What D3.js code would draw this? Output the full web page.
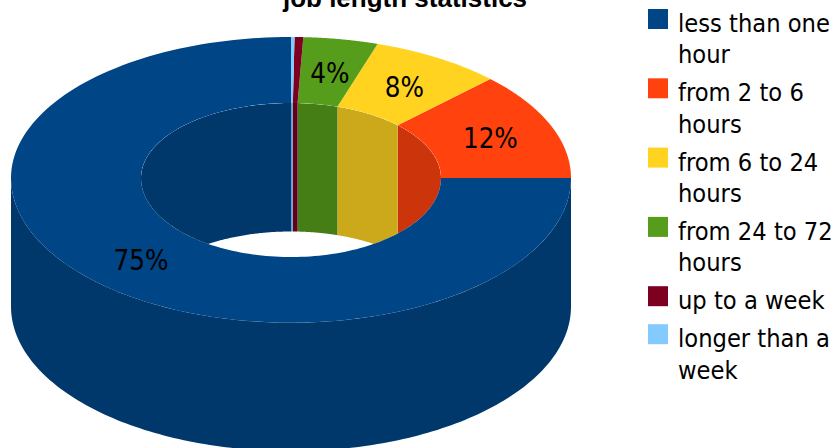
<!DOCTYPE html>
<html>
<head>
<meta charset="utf-8">
<script src="https://cdn.jsdelivr.net/npm/d3@7"></script>
<style>
  html, body { margin: 0; padding: 0; background: #fff; overflow: hidden; }
  svg { display: block; }
  text { font-family: "DejaVu Sans", sans-serif; font-stretch: condensed; fill: #000; }
  text.title { font-family: "Liberation Sans", sans-serif; font-stretch: normal; }
</style>
</head>
<body>
<svg id="chart" width="837" height="448"></svg>
<script>
const categories = ["less than one hour", "from 2 to 6 hours", "from 6 to 24 hours", "from 24 to 72 hours", "up to a week", "longer than a week"];
const shares = [75, 12.4, 7.6, 4.3, 0.5, 0.2];
const faceColors = ["#004586", "#ff420e", "#ffd320", "#579d1c", "#7e0021", "#83caff"];
const innerWallColors = ["#00386b", "#cc350b", "#cca91a", "#467e16", "#65001a", "#699fcc"];
const legendLines = [["less than one", "hour"], ["from 2 to 6", "hours"], ["from 6 to 24", "hours"], ["from 24 to 72", "hours"], ["up to a week"], ["longer than a", "week"]];
const sideColor = "#00386b";

const svg = d3.select("#chart");

// Ring geometry: a circular ring seen in perspective, so the near half of each
// ellipse is a little taller than the far half, extruded downward.
const cx = 291, cy = 178, outerR = 280, innerR = 150, depth = 128.5;
const tiltFar = d3.scaleLinear().domain([innerR, outerR]).range([0.5, 0.5036]);
const tiltNear = d3.scaleLinear().domain([innerR, outerR]).range([0.527, 0.5168]);

const pie = d3.pie().value(d => d).sort(null).startAngle(0).endAngle(-2 * Math.PI);
const slices = pie(shares);

const px = (r, a) => cx + r * Math.sin(a);
const py = (r, a) => {
  const c = Math.cos(a);
  return cy - r * c * (c > 0 ? tiltFar(r) : tiltNear(r));
};

// Sample angles across an interval for curved edges.
const sampleAngles = (a0, a1, n = 160) => d3.range(0, n + 1).map(i => a0 + (a1 - a0) * i / n);
const wall = r => d3.area().x(a => px(r, a)).y0(a => py(r, a)).y1(a => py(r, a) + depth);
const outline = d3.line().x(p => px(p[0], p[1])).y(p => py(p[0], p[1]));

const holeEdge = sampleAngles(0, 2 * Math.PI, 240).map(a => [innerR, a]);
svg.append("defs").append("clipPath").attr("id", "holeClip")
  .append("path").attr("d", outline(holeEdge) + "Z");

// Outer wall: only the front half of the ring faces the viewer.
svg.append("path")
  .attr("d", wall(outerR)(sampleAngles(Math.PI / 2, 3 * Math.PI / 2)))
  .attr("fill", sideColor);

// Inner wall: the far half of the hole, seen through the opening.
const hole = svg.append("g").attr("clip-path", "url(#holeClip)");
slices.forEach((s, i) => {
  const from = i === 0 ? -Math.PI / 2 : s.endAngle + 2 * Math.PI;
  const to = i === 0 ? 0 : s.startAngle + 2 * Math.PI;
  hole.append("path").attr("d", wall(innerR)(sampleAngles(from, to))).attr("fill", innerWallColors[i]);
});

// Upper face of the ring.
svg.append("g").selectAll("path").data(slices).join("path")
  .attr("d", s => {
    const angles = sampleAngles(s.startAngle, s.endAngle);
    const ring = angles.map(a => [outerR, a]).concat(angles.slice().reverse().map(a => [innerR, a]));
    return outline(ring) + "Z";
  })
  .attr("fill", (d, i) => faceColors[i]);

// Percentage labels, skipping the slivers.
const fmt = d3.format(".0f");
slices.forEach((s, i) => {
  if (s.data < 1) return;
  const mid = (s.startAngle + s.endAngle) / 2;
  const r = (innerR + outerR) / 2;
  const shift = i === 0 ? [2, 3] : [0.5, 0.8];
  svg.append("text")
    .attr("x", px(r, mid) + shift[0]).attr("y", py(r, mid) + shift[1])
    .attr("text-anchor", "middle").attr("dominant-baseline", "central")
    .attr("font-size", 27.5).text(fmt(s.data) + "%");
});

svg.append("text").attr("class", "title").attr("x", 405).attr("y", 6.8).attr("text-anchor", "middle")
  .attr("font-size", 26).attr("font-weight", "bold").text("job length statistics");

// Legend with wrapped entries.
let ly = 9;
legendLines.forEach((lines, i) => {
  svg.append("rect").attr("x", 648).attr("y", ly).attr("width", 20).attr("height", 20).attr("fill", faceColors[i]);
  lines.forEach((t, j) => {
    svg.append("text").attr("x", 678).attr("y", ly + 23 + j * 31.3).attr("font-size", 25.2).text(t);
  });
  ly += lines.length * 31.3 + 6.7;
});
</script>
</body>
</html>
